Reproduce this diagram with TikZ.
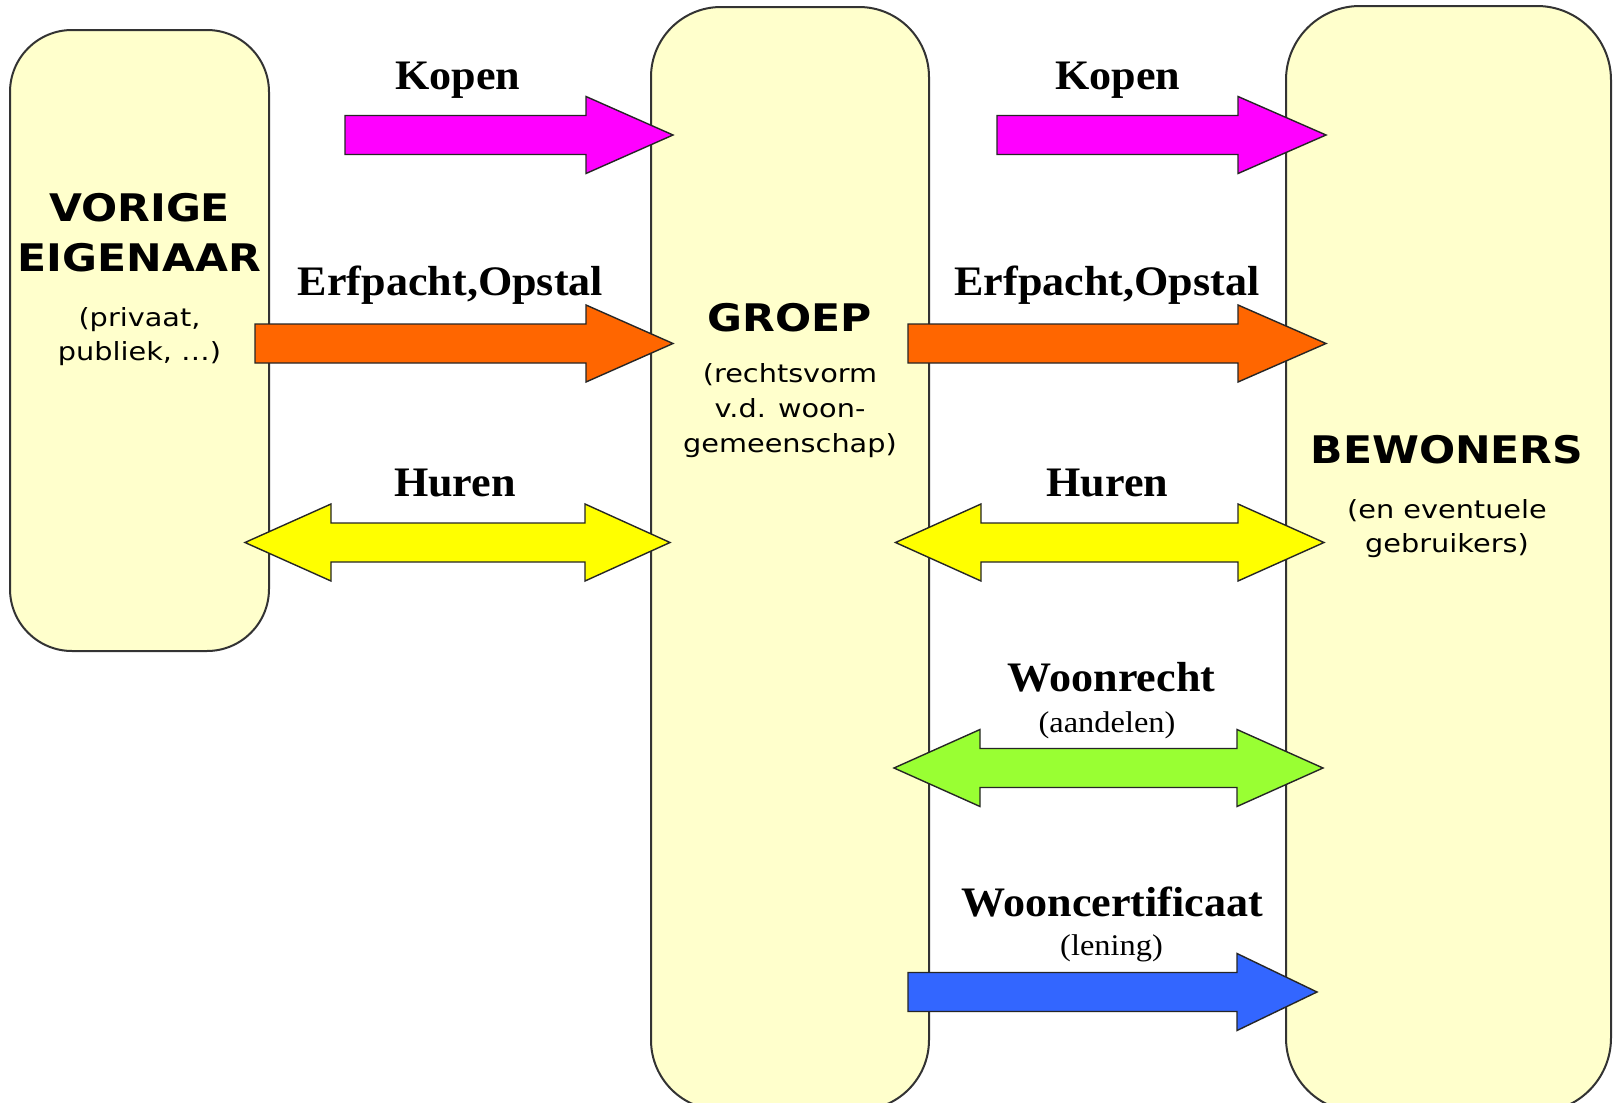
\documentclass[tikz,border=0pt]{standalone}
\usepackage{fontspec}
\newfontfamily\labfont[FakeStretch=1.05]{Liberation Serif}
\newfontfamily\subfont[FakeStretch=1.08]{Liberation Serif}
\newfontfamily\ttlfont[FakeStretch=1.12]{DejaVu Sans}
\newfontfamily\smlfont[FakeStretch=1.15]{DejaVu Sans}
\definecolor{boxfill}{HTML}{FFFFCC}
\definecolor{boxline}{HTML}{333333}
\definecolor{cmag}{HTML}{FF00FF}
\definecolor{corange}{HTML}{FF6600}
\definecolor{cyellow}{HTML}{FFFF00}
\definecolor{cgreen}{HTML}{99FF33}
\definecolor{cblue}{HTML}{3366FF}
% single block arrow: style, x start, x head base, x tip, y centre
\newcommand{\rblockarrow}[5]{%
  \filldraw[blockarrow,#1] (#2,#5-19.5) -- (#3,#5-19.5) -- (#3,#5-38.5) -- (#4,#5)
    -- (#3,#5+38.5) -- (#3,#5+19.5) -- (#2,#5+19.5) -- cycle;}
% double block arrow: style, left tip, left base, right base, right tip, y centre
\newcommand{\dblockarrow}[6]{%
  \filldraw[blockarrow,#1] (#2,#6) -- (#3,#6-38.5) -- (#3,#6-19.5) -- (#4,#6-19.5)
    -- (#4,#6-38.5) -- (#5,#6) -- (#4,#6+38.5) -- (#4,#6+19.5) -- (#3,#6+19.5)
    -- (#3,#6+38.5) -- cycle;}
\begin{document}
\begin{tikzpicture}[x=0.5pt,y=-0.5pt,
  box/.style={draw=boxline, fill=boxfill, line width=1pt, inner sep=0pt},
  blockarrow/.style={draw=black!85, line width=0.7pt, line join=miter},
  lab/.style={font=\labfont\bfseries\fontsize{21}{25}\selectfont, anchor=base, inner sep=0pt},
  sublab/.style={font=\subfont\fontsize{15}{18}\selectfont, anchor=base, inner sep=0pt},
  ttl/.style={font=\ttlfont\bfseries\fontsize{19}{23}\selectfont, anchor=base, inner sep=0pt},
  sml/.style={font=\smlfont\fontsize{12.5}{15}\selectfont, anchor=base, inner sep=0pt}]
\useasboundingbox (0,0) rectangle (1614,1103);
\clip (0,0) rectangle (1614,1103);
\fill[white] (0,0) rectangle (1614,1103);

% boxes
\node[box, minimum width=129.5pt, minimum height=310.5pt, rounded corners=31pt] (vorige) at (139.5,340.5) {};
\node[box, minimum width=139pt, minimum height=551.5pt, rounded corners=35pt] (groep) at (790,558.5) {};
\node[box, minimum width=162.5pt, minimum height=553pt, rounded corners=37pt] (bewoners) at (1448.5,559) {};

% box texts
\node[ttl] (t1) at (139.5,221) {VORIGE};
\node[ttl] (t2) at (139.5,271) {EIGENAAR};
\node[sml] (t3) at (139.5,326) {(privaat,};
\node[sml] (t4) at (139.5,360) {publiek, …)};
\node[ttl] (g1) at (790,331) {GROEP};
\node[sml] (g2) at (790,382) {(rechtsvorm};
\node[sml] (g3) at (790,417) {v.d. woon-};
\node[sml] (g4) at (790,452) {gemeenschap)};
\node[ttl] (b1) at (1447,463) {BEWONERS};
\node[sml] (b2) at (1447,518) {(en eventuele};
\node[sml] (b3) at (1447,552) {gebruikers)};

% arrows
\rblockarrow{fill=cmag}{345}{586}{673}{135}
\rblockarrow{fill=cmag}{997}{1238}{1326}{135}
\rblockarrow{fill=corange}{255}{586}{673}{343.5}
\rblockarrow{fill=corange}{908}{1238}{1326}{343.5}
\dblockarrow{fill=cyellow}{245}{331}{585}{670}{542.5}
\dblockarrow{fill=cyellow}{895.5}{981}{1238}{1324}{542.5}
\dblockarrow{fill=cgreen}{894}{980}{1237}{1323}{768}
\rblockarrow{fill=cblue}{908}{1237}{1317}{992}

% arrow labels
\node[lab] (k1) at (458,90) {Kopen};
\node[lab] (k2) at (1118,90) {Kopen};
\node[lab] (e1) at (450.5,295) {Erfpacht,Opstal};
\node[lab] (e2) at (1107,295) {Erfpacht,Opstal};
\node[lab] (h1) at (455,496) {Huren};
\node[lab] (h2) at (1107.5,496) {Huren};
\node[lab] (w1) at (1111.5,691) {Woonrecht};
\node[sublab] (w2) at (1107,732) {(aandelen)};
\node[lab] (c1) at (1112.5,916) {Wooncertificaat};
\node[sublab] (c2) at (1111.5,955) {(lening)};
\end{tikzpicture}
\end{document}
